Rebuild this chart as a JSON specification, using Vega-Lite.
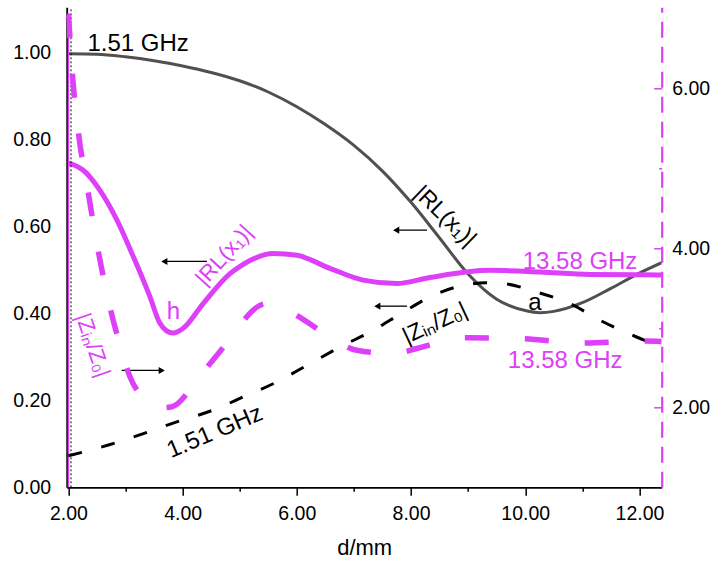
{
  "$schema": "https://vega.github.io/schema/vega-lite/v6.json",
  "width": 595,
  "height": 480,
  "autosize": {"type": "none"},
  "padding": {"left": 66.7, "top": 7.3, "right": 53, "bottom": 80},
  "config": {
    "view": {"stroke": null},
    "font": "Liberation Sans",
    "axis": {"grid": false, "labelFont": "Liberation Sans", "titleFont": "Liberation Sans", "labelColor": "#000", "titleColor": "#000"}
  },
  "datasets": {
    "rl151": [
      {"d": 2.0, "v": 0.998}, {"d": 2.5, "v": 0.997}, {"d": 3.0, "v": 0.991}, {"d": 3.5, "v": 0.982},
      {"d": 4.0, "v": 0.97}, {"d": 4.5, "v": 0.955}, {"d": 5.0, "v": 0.936}, {"d": 5.5, "v": 0.91},
      {"d": 6.0, "v": 0.876}, {"d": 6.5, "v": 0.835}, {"d": 7.0, "v": 0.787}, {"d": 7.5, "v": 0.728},
      {"d": 8.0, "v": 0.656}, {"d": 8.5, "v": 0.574}, {"d": 9.0, "v": 0.491}, {"d": 9.5, "v": 0.433},
      {"d": 10.0, "v": 0.407}, {"d": 10.26, "v": 0.402}, {"d": 10.5, "v": 0.405}, {"d": 11.0, "v": 0.425},
      {"d": 11.5, "v": 0.458}, {"d": 12.0, "v": 0.493}, {"d": 12.39, "v": 0.517}
    ],
    "rl1358": [
      {"d": 2.0, "v": 0.746}, {"d": 2.1, "v": 0.742}, {"d": 2.26, "v": 0.73}, {"d": 2.55, "v": 0.684},
      {"d": 2.85, "v": 0.615}, {"d": 3.14, "v": 0.53}, {"d": 3.43, "v": 0.438}, {"d": 3.6, "v": 0.378},
      {"d": 3.72, "v": 0.36}, {"d": 3.83, "v": 0.355}, {"d": 4.01, "v": 0.366}, {"d": 4.36, "v": 0.423},
      {"d": 4.83, "v": 0.492}, {"d": 5.0, "v": 0.508}, {"d": 5.18, "v": 0.522}, {"d": 5.59, "v": 0.538},
      {"d": 6.0, "v": 0.534}, {"d": 6.58, "v": 0.504}, {"d": 7.16, "v": 0.477}, {"d": 7.75, "v": 0.469},
      {"d": 8.33, "v": 0.483}, {"d": 9.38, "v": 0.4995}, {"d": 10.26, "v": 0.4956}, {"d": 11.13, "v": 0.49},
      {"d": 12.39, "v": 0.489}
    ],
    "z151": [
      {"d": 2.0, "v": 1.395}, {"d": 2.7, "v": 1.53}, {"d": 3.3, "v": 1.67}, {"d": 3.81, "v": 1.799},
      {"d": 4.6, "v": 1.987}, {"d": 5.06, "v": 2.133}, {"d": 5.65, "v": 2.321}, {"d": 6.23, "v": 2.551},
      {"d": 6.76, "v": 2.76}, {"d": 7.34, "v": 2.969}, {"d": 7.87, "v": 3.199}, {"d": 8.39, "v": 3.408},
      {"d": 8.98, "v": 3.542}, {"d": 9.3, "v": 3.565}, {"d": 9.62, "v": 3.555}, {"d": 10.2, "v": 3.449},
      {"d": 10.78, "v": 3.304}, {"d": 11.37, "v": 3.073}, {"d": 11.95, "v": 2.885}, {"d": 12.39, "v": 2.76}
    ],
    "z1358": [
      {"d": 2.0, "v": 6.94}, {"d": 2.06, "v": 6.272}, {"d": 2.17, "v": 5.478}, {"d": 2.34, "v": 4.725},
      {"d": 2.52, "v": 3.972}, {"d": 2.7, "v": 3.345}, {"d": 2.93, "v": 2.718}, {"d": 3.08, "v": 2.383},
      {"d": 3.43, "v": 2.07}, {"d": 3.66, "v": 2.0}, {"d": 3.81, "v": 2.01}, {"d": 4.25, "v": 2.342},
      {"d": 4.48, "v": 2.551}, {"d": 4.95, "v": 2.969}, {"d": 5.12, "v": 3.136}, {"d": 5.45, "v": 3.3},
      {"d": 5.74, "v": 3.254}, {"d": 6.09, "v": 3.116}, {"d": 6.64, "v": 2.853}, {"d": 7.05, "v": 2.718},
      {"d": 7.69, "v": 2.677}, {"d": 8.1, "v": 2.74}, {"d": 8.91, "v": 2.875}, {"d": 9.93, "v": 2.865},
      {"d": 10.98, "v": 2.81}, {"d": 12.05, "v": 2.835}, {"d": 12.39, "v": 2.83}
    ],
    "arrows": [
      {"x1": 7.72, "x2": 8.28, "y": 0.592, "hx": 7.74, "dir": "left"},
      {"x1": 3.66, "x2": 4.427, "y": 0.52, "hx": 3.68, "dir": "left"},
      {"x1": 2.933, "x2": 3.65, "y": 0.269, "hx": 3.635, "dir": "right"},
      {"x1": 7.39, "x2": 7.93, "y": 0.417, "hx": 7.41, "dir": "left"}
    ]
  },
  "layer": [
    {
      "layer": [
        {
          "data": {"name": "rl151"},
          "mark": {"type": "line", "color": "#505050", "strokeWidth": 3, "interpolate": "monotone", "clip": true},
          "encoding": {
            "x": {
              "field": "d", "type": "quantitative",
              "scale": {"domain": [1.97, 12.39], "nice": false, "zero": false},
              "axis": {
                "values": [2, 3, 4, 5, 6, 7, 8, 9, 10, 11, 12],
                "labelExpr": "datum.value % 2 === 0 ? format(datum.value, '.2f') : ''",
                "tickSize": {"condition": {"test": "datum.value % 2 !== 0", "value": 4}, "value": 8},
                "tickColor": "#000", "tickWidth": 1.5,
                "domainColor": "#000", "domainWidth": 1.8,
                "labelFontSize": 19.5, "labelPadding": 9,
                "title": "d/mm", "titleFontSize": 22, "titleFontWeight": "normal", "titlePadding": 15
              }
            },
            "y": {
              "field": "v", "type": "quantitative",
              "scale": {"domain": [0, 1.105], "nice": false, "zero": false},
              "axis": {
                "orient": "left",
                "values": [0, 0.2, 0.4, 0.6, 0.8, 1.0],
                "format": ".2f",
                "ticks": false,
                "domainColor": "#000", "domainWidth": 1.8,
                "labelFontSize": 19.5, "labelPadding": 16,
                "title": null
              }
            }
          }
        },
        {
          "data": {"name": "rl1358"},
          "mark": {"type": "line", "color": "#dd40f8", "strokeWidth": 5, "interpolate": "monotone", "clip": true},
          "encoding": {
            "x": {"field": "d", "type": "quantitative"},
            "y": {"field": "v", "type": "quantitative"}
          }
        },
        {
          "data": {"values": [{"d": 2.0}]},
          "mark": {"type": "rule", "color": "#dd40f8", "strokeWidth": 1.5},
          "encoding": {
            "x": {"field": "d", "type": "quantitative"},
            "y": {"datum": 0},
            "y2": {"datum": 1.08}
          }
        },
        {
          "data": {"values": [{"d": 2.0, "v": 1.085}]},
          "mark": {"type": "point", "shape": "triangle-up", "filled": true, "color": "#dd40f8", "size": 40, "opacity": 1},
          "encoding": {
            "x": {"field": "d", "type": "quantitative"},
            "y": {"field": "v", "type": "quantitative"}
          }
        },
        {
          "data": {"values": [{"d": 2.045}]},
          "mark": {"type": "rule", "color": "#000", "strokeWidth": 1, "strokeDash": [2, 2]},
          "encoding": {
            "x": {"field": "d", "type": "quantitative"},
            "y": {"datum": 0},
            "y2": {"datum": 1.105}
          }
        },
        {
          "mark": {"type": "rule", "color": "#000", "strokeWidth": 1.8},
          "encoding": {
            "y": {"datum": 1.105}
          }
        },
        {
          "data": {"name": "arrows"},
          "mark": {"type": "rule", "color": "#000", "strokeWidth": 1.3},
          "encoding": {
            "x": {"field": "x1", "type": "quantitative"},
            "x2": {"field": "x2"},
            "y": {"field": "y", "type": "quantitative"}
          }
        },
        {
          "data": {"name": "arrows"},
          "mark": {"type": "point", "filled": true, "color": "#000", "size": 50, "opacity": 1},
          "encoding": {
            "x": {"field": "hx", "type": "quantitative"},
            "y": {"field": "y", "type": "quantitative"},
            "shape": {"field": "dir", "type": "nominal", "scale": {"domain": ["left", "right"], "range": ["triangle-left", "triangle-right"]}, "legend": null}
          }
        },
        {
          "data": {"values": [{"d": 3.22, "v": 1.02, "t": "1.51 GHz"}, {"d": 10.17, "v": 0.424, "t": "a"}]},
          "mark": {"type": "text", "color": "#000", "fontSize": 24, "align": "center", "baseline": "middle"},
          "encoding": {"x": {"field": "d", "type": "quantitative"}, "y": {"field": "v", "type": "quantitative"}, "text": {"field": "t"}}
        },
        {
          "data": {"values": [{"d": 3.84, "v": 0.403, "t": "h"}, {"d": 10.96, "v": 0.518, "t": "13.58 GHz"}, {"d": 10.7, "v": 0.29, "t": "13.58 GHz"}]},
          "mark": {"type": "text", "color": "#dd40f8", "fontSize": 24, "align": "center", "baseline": "middle"},
          "encoding": {"x": {"field": "d", "type": "quantitative"}, "y": {"field": "v", "type": "quantitative"}, "text": {"field": "t"}}
        },
        {
          "data": {"values": [{"d": 8.595, "v": 0.624, "t": "|RL(x₁)|"}]},
          "mark": {"type": "text", "color": "#000", "fontSize": 23, "align": "center", "baseline": "middle", "angle": 44},
          "encoding": {"x": {"field": "d", "type": "quantitative"}, "y": {"field": "v", "type": "quantitative"}, "text": {"field": "t"}}
        },
        {
          "data": {"values": [{"d": 4.725, "v": 0.534, "t": "|RL(x₁)|"}]},
          "mark": {"type": "text", "color": "#dd40f8", "fontSize": 22, "align": "center", "baseline": "middle", "angle": -48},
          "encoding": {"x": {"field": "d", "type": "quantitative"}, "y": {"field": "v", "type": "quantitative"}, "text": {"field": "t"}}
        },
        {
          "data": {"values": [{"d": 4.567, "v": 0.127, "t": "1.51 GHz"}]},
          "mark": {"type": "text", "color": "#000", "fontSize": 24, "align": "center", "baseline": "middle", "angle": -23},
          "encoding": {"x": {"field": "d", "type": "quantitative"}, "y": {"field": "v", "type": "quantitative"}, "text": {"field": "t"}}
        },
        {
          "data": {"values": [{"d": 2.43, "v": 0.327, "t": "|Zᵢₙ/Z₀|"}]},
          "mark": {"type": "text", "color": "#dd40f8", "fontSize": 22, "align": "center", "baseline": "middle", "angle": 71},
          "encoding": {"x": {"field": "d", "type": "quantitative"}, "y": {"field": "v", "type": "quantitative"}, "text": {"field": "t"}}
        },
        {
          "data": {"values": [{"d": 8.42, "v": 0.3775, "t": "|Zᵢₙ/Z₀|"}]},
          "mark": {"type": "text", "color": "#000", "fontSize": 23, "align": "center", "baseline": "middle", "angle": -25},
          "encoding": {"x": {"field": "d", "type": "quantitative"}, "y": {"field": "v", "type": "quantitative"}, "text": {"field": "t"}}
        }
      ]
    },
    {
      "layer": [
        {
          "data": {"name": "z151"},
          "mark": {"type": "line", "color": "#000", "strokeWidth": 3, "strokeDash": [14, 20], "strokeCap": "butt", "interpolate": "monotone", "clip": true},
          "encoding": {
            "x": {"field": "d", "type": "quantitative"},
            "y": {
              "field": "v", "type": "quantitative",
              "scale": {"domain": [1, 7.02], "nice": false, "zero": false},
              "axis": {
                "orient": "right",
                "values": [2, 3, 4, 5, 6],
                "labelExpr": "datum.value % 2 === 0 ? format(datum.value, '.2f') : ''",
                "tickSize": {"condition": {"test": "datum.value % 2 !== 0", "value": -3}, "value": -8},
                "tickColor": "#dd40f8", "tickWidth": 1.5,
                "domainColor": "#dd40f8", "domainWidth": 2.2, "domainDash": [16, 9],
                "labelFontSize": 19.5, "labelPadding": 18,
                "title": null
              }
            }
          }
        },
        {
          "data": {"name": "z1358"},
          "mark": {"type": "line", "color": "#dd40f8", "strokeWidth": 5.5, "strokeDash": [24, 36], "strokeCap": "butt", "interpolate": "monotone", "clip": true},
          "encoding": {
            "x": {"field": "d", "type": "quantitative"},
            "y": {"field": "v", "type": "quantitative"}
          }
        }
      ]
    }
  ],
  "resolve": {"scale": {"y": "independent"}, "axis": {"y": "independent"}}
}
